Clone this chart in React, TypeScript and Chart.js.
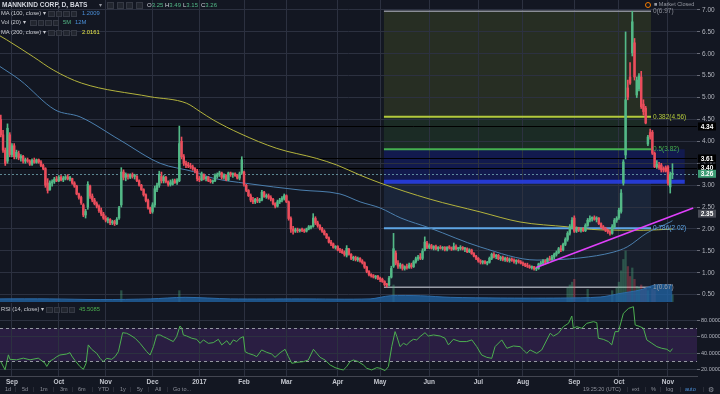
import React, { useEffect, useRef } from 'react';
import { Chart, registerables } from 'chart.js';

Chart.register(...registerables);

// ---------------- data ----------------
const MONTH_IDX = [5, 26, 47, 68, 89, 109, 128, 151, 170, 192, 214, 234, 257, 277, 299];
const MONTH_LABELS = ['Sep', 'Oct', 'Nov', 'Dec', '2017', 'Feb', 'Mar', 'Apr', 'May', 'Jun', 'Jul', 'Aug', 'Sep', 'Oct', 'Nov'];
const PRICE_TICKS = [0.5, 1, 1.5, 2, 2.5, 3, 3.5, 4, 4.5, 5, 5.5, 6, 6.5, 7];
const RSI_TICKS = [20, 40, 60, 80];

const OPENS = [
  4.50, 4.15, 3.80, 3.55, 4.15,
  3.70, 3.90, 3.65, 3.72, 3.62, 3.66, 3.55, 3.58, 3.55, 3.48, 3.57, 3.52, 3.58, 3.53, 3.45, 3.38, 3.05, 2.90, 3.05, 3.08, 3.14,
  3.10, 3.18, 3.12, 3.16, 3.19, 3.14, 3.15, 3.05, 2.98, 2.80, 2.72, 2.55, 2.32, 2.50, 2.98, 2.75, 2.66, 2.58, 2.52, 2.42, 2.34,
  2.25, 2.20, 2.22, 2.14, 2.17, 2.12, 2.25, 2.55, 3.30, 3.18, 3.22, 3.18, 3.24, 3.20, 3.20, 3.10, 3.00, 2.90, 2.78, 2.65, 2.48,
  2.40, 2.55, 2.90, 3.00, 3.20, 3.10, 3.18, 3.08, 3.02, 3.02, 3.10, 3.06, 3.10, 4.00, 3.65, 3.50, 3.46, 3.44, 3.42, 3.38, 3.32,
  3.15, 3.12, 3.24, 3.15, 3.18, 3.10, 3.08, 3.10, 3.20, 3.24, 3.28, 3.18, 3.22, 3.12, 3.28, 3.24, 3.26, 3.22, 3.16, 3.28,
  3.30, 3.00, 2.88, 2.76, 2.66, 2.62, 2.68, 2.64, 2.66, 2.84, 2.74, 2.76, 2.72, 2.68, 2.58, 2.52, 2.62, 2.66, 2.70,
  2.76, 2.62, 2.24, 2.00, 1.95, 1.98, 1.96, 1.98, 1.97, 1.95, 2.00, 2.04, 2.06, 2.24, 2.14, 2.08, 2.01, 1.95, 1.88, 1.80, 1.70, 1.66, 1.58,
  1.60, 1.52, 1.50, 1.46, 1.40, 1.54, 1.42, 1.33, 1.35, 1.30, 1.33, 1.27, 1.23, 1.13, 1.03, 0.96, 0.93, 0.90, 0.92,
  0.87, 0.85, 0.80, 0.73, 0.72, 0.90, 1.15, 1.45, 1.22, 1.15, 1.18, 1.10, 1.14, 1.12, 1.18, 1.14, 1.25, 1.32, 1.36, 1.33, 1.52, 1.68,
  1.58, 1.62, 1.56, 1.60, 1.55, 1.58, 1.56, 1.58, 1.53, 1.58, 1.57, 1.54, 1.60, 1.55, 1.56, 1.58, 1.54, 1.55, 1.48, 1.52, 1.44, 1.38,
  1.33, 1.27, 1.24, 1.26, 1.22, 1.24, 1.33, 1.42, 1.37, 1.40, 1.32, 1.35, 1.30, 1.33, 1.28, 1.31, 1.29, 1.26, 1.28, 1.25,
  1.22, 1.20, 1.17, 1.15, 1.12, 1.14, 1.09, 1.10, 1.20, 1.22, 1.27, 1.24, 1.32, 1.30, 1.36, 1.42, 1.46, 1.55, 1.52, 1.65, 1.76, 1.90, 2.05,
  2.25, 1.95, 2.00, 1.97, 1.99, 1.96, 2.08, 2.20, 2.24, 2.26, 2.22, 2.25, 2.12, 2.05, 2.01, 1.97, 1.94, 1.90, 2.05, 2.20,
  2.26, 2.40, 3.05, 3.69, 5.22, 5.47, 6.02, 6.25, 5.06, 5.20, 5.47, 4.85, 4.76, 3.94, 4.20, 4.21, 3.73, 3.42, 3.45, 3.46, 3.38, 3.40,
  3.42, 2.96, 3.25,
];
const HIGHS = [
  4.60, 4.25, 3.85, 4.40, 4.20,
  3.95, 3.95, 3.80, 3.78, 3.70, 3.68, 3.62, 3.62, 3.58, 3.60, 3.62, 3.60, 3.60, 3.56, 3.48, 3.40, 3.15, 3.10, 3.12, 3.18, 3.20,
  3.22, 3.22, 3.20, 3.22, 3.24, 3.20, 3.16, 3.08, 3.00, 2.82, 2.75, 2.58, 2.45, 3.08, 3.00, 2.80, 2.70, 2.62, 2.55, 2.48, 2.38,
  2.30, 2.26, 2.24, 2.20, 2.20, 2.26, 2.52, 3.40, 3.35, 3.28, 3.26, 3.26, 3.28, 3.25, 3.22, 3.12, 3.02, 2.92, 2.80, 2.68, 2.50,
  2.60, 2.98, 3.05, 3.32, 3.30, 3.22, 3.20, 3.10, 3.12, 3.14, 3.14, 3.15, 4.35, 4.10, 3.70, 3.55, 3.52, 3.50, 3.46, 3.40, 3.36,
  3.20, 3.30, 3.26, 3.20, 3.20, 3.14, 3.12, 3.26, 3.28, 3.32, 3.30, 3.26, 3.24, 3.30, 3.30, 3.28, 3.28, 3.24, 3.30, 3.65,
  3.32, 3.02, 2.90, 2.80, 2.72, 2.70, 2.72, 2.70, 2.88, 2.86, 2.80, 2.80, 2.76, 2.70, 2.60, 2.66, 2.70, 2.74, 2.80,
  2.78, 2.64, 2.28, 2.06, 2.02, 2.02, 2.00, 2.02, 2.00, 2.02, 2.08, 2.08, 2.35, 2.28, 2.18, 2.10, 2.04, 1.98, 1.90, 1.82, 1.74, 1.68, 1.62,
  1.62, 1.56, 1.54, 1.50, 1.62, 1.56, 1.44, 1.38, 1.38, 1.36, 1.35, 1.30, 1.25, 1.15, 1.05, 0.98, 0.96, 0.94, 0.94,
  0.90, 0.88, 0.82, 0.76, 0.92, 1.15, 1.90, 1.50, 1.28, 1.22, 1.20, 1.16, 1.20, 1.22, 1.22, 1.28, 1.36, 1.40, 1.44, 1.55, 1.82, 1.72,
  1.66, 1.65, 1.62, 1.63, 1.60, 1.62, 1.60, 1.60, 1.60, 1.62, 1.59, 1.68, 1.64, 1.58, 1.62, 1.60, 1.58, 1.57, 1.55, 1.54, 1.46, 1.40,
  1.35, 1.30, 1.28, 1.28, 1.26, 1.36, 1.45, 1.46, 1.42, 1.42, 1.38, 1.38, 1.36, 1.36, 1.34, 1.34, 1.32, 1.30, 1.30, 1.28,
  1.25, 1.22, 1.22, 1.18, 1.16, 1.15, 1.12, 1.22, 1.26, 1.30, 1.30, 1.34, 1.38, 1.40, 1.45, 1.50, 1.58, 1.62, 1.68, 1.80, 1.94, 2.10, 2.26,
  2.30, 2.05, 2.04, 2.02, 2.03, 2.12, 2.24, 2.30, 2.28, 2.30, 2.28, 2.26, 2.14, 2.08, 2.04, 2.00, 1.96, 2.10, 2.24, 2.28,
  2.48, 2.90, 3.58, 6.50, 5.40, 5.80, 6.97, 6.35, 5.47, 5.55, 5.60, 4.95, 4.80, 4.14, 4.28, 4.25, 3.76, 3.56, 3.52, 3.50, 3.42, 3.44,
  3.45, 3.30, 3.49,
];
const LOWS = [
  4.10, 3.75, 3.45, 3.50, 3.65,
  3.65, 3.60, 3.60, 3.58, 3.55, 3.50, 3.50, 3.52, 3.45, 3.45, 3.50, 3.50, 3.50, 3.42, 3.35, 2.95, 2.82, 2.88, 2.98, 3.04, 3.08,
  3.08, 3.10, 3.08, 3.12, 3.12, 3.10, 3.02, 2.95, 2.78, 2.68, 2.56, 2.28, 2.25, 2.45, 2.70, 2.62, 2.55, 2.48, 2.38, 2.30, 2.22,
  2.16, 2.14, 2.10, 2.10, 2.08, 2.10, 2.22, 2.50, 3.12, 3.10, 3.14, 3.15, 3.16, 3.14, 3.08, 2.98, 2.88, 2.75, 2.62, 2.45, 2.35,
  2.36, 2.50, 2.85, 2.95, 3.05, 3.05, 3.05, 2.98, 2.98, 3.00, 3.04, 3.02, 3.08, 3.60, 3.45, 3.40, 3.40, 3.38, 3.34, 3.28, 3.10,
  3.08, 3.10, 3.12, 3.10, 3.08, 3.05, 3.04, 3.08, 3.16, 3.20, 3.14, 3.14, 3.10, 3.10, 3.20, 3.18, 3.20, 3.14, 3.12, 3.25,
  2.98, 2.85, 2.74, 2.62, 2.58, 2.58, 2.60, 2.60, 2.64, 2.72, 2.70, 2.68, 2.64, 2.55, 2.48, 2.50, 2.58, 2.62, 2.66,
  2.60, 2.20, 1.92, 1.88, 1.92, 1.92, 1.93, 1.94, 1.92, 1.93, 1.98, 2.00, 2.04, 2.10, 2.04, 1.98, 1.92, 1.86, 1.78, 1.68, 1.62, 1.56, 1.54,
  1.50, 1.46, 1.44, 1.38, 1.36, 1.40, 1.30, 1.28, 1.27, 1.26, 1.24, 1.20, 1.10, 1.00, 0.93, 0.90, 0.88, 0.86, 0.84,
  0.80, 0.78, 0.70, 0.67, 0.70, 0.88, 1.12, 1.18, 1.10, 1.10, 1.06, 1.06, 1.08, 1.10, 1.10, 1.12, 1.22, 1.28, 1.30, 1.30, 1.50, 1.55,
  1.55, 1.54, 1.52, 1.52, 1.50, 1.54, 1.52, 1.50, 1.50, 1.54, 1.51, 1.52, 1.52, 1.50, 1.52, 1.52, 1.48, 1.46, 1.46, 1.42, 1.36, 1.30,
  1.24, 1.20, 1.20, 1.20, 1.18, 1.22, 1.30, 1.34, 1.32, 1.30, 1.28, 1.27, 1.26, 1.25, 1.24, 1.26, 1.22, 1.20, 1.22, 1.20,
  1.16, 1.14, 1.12, 1.10, 1.08, 1.06, 1.05, 1.08, 1.16, 1.18, 1.20, 1.22, 1.28, 1.28, 1.32, 1.38, 1.44, 1.48, 1.50, 1.62, 1.72, 1.86, 2.00,
  1.92, 1.92, 1.94, 1.93, 1.94, 1.94, 2.06, 2.16, 2.18, 2.20, 2.16, 2.10, 2.02, 1.98, 1.94, 1.90, 1.86, 1.88, 2.02, 2.15,
  2.22, 2.36, 3.00, 3.60, 4.95, 5.30, 5.95, 5.40, 5.00, 5.15, 4.75, 4.60, 4.40, 3.90, 4.05, 3.70, 3.40, 3.38, 3.36, 3.30, 3.30, 3.30,
  3.00, 2.82, 3.15,
];
const CLOSES = [
  4.15, 3.80, 3.50, 4.30, 3.70,
  3.90, 3.65, 3.75, 3.62, 3.66, 3.55, 3.58, 3.55, 3.48, 3.57, 3.52, 3.58, 3.53, 3.45, 3.38, 3.00, 2.88, 3.05, 3.08, 3.14, 3.10,
  3.18, 3.12, 3.16, 3.19, 3.14, 3.17, 3.05, 2.98, 2.80, 2.72, 2.60, 2.32, 2.40, 3.02, 2.75, 2.66, 2.58, 2.52, 2.42, 2.34, 2.25,
  2.20, 2.22, 2.14, 2.17, 2.12, 2.22, 2.48, 3.30, 3.18, 3.25, 3.20, 3.24, 3.20, 3.22, 3.10, 3.00, 2.90, 2.78, 2.65, 2.48, 2.38,
  2.55, 2.92, 3.00, 3.25, 3.10, 3.18, 3.08, 3.02, 3.06, 3.10, 3.06, 3.12, 3.95, 3.65, 3.50, 3.46, 3.44, 3.42, 3.38, 3.32, 3.15,
  3.12, 3.26, 3.15, 3.18, 3.10, 3.08, 3.10, 3.22, 3.24, 3.28, 3.18, 3.22, 3.12, 3.28, 3.24, 3.26, 3.22, 3.16, 3.26, 3.58,
  3.02, 2.88, 2.76, 2.66, 2.62, 2.68, 2.64, 2.66, 2.84, 2.74, 2.76, 2.72, 2.68, 2.58, 2.52, 2.62, 2.66, 2.70, 2.76,
  2.62, 2.24, 2.00, 1.95, 1.98, 1.96, 1.98, 1.97, 1.95, 2.00, 2.05, 2.06, 2.25, 2.14, 2.08, 2.01, 1.95, 1.88, 1.80, 1.70, 1.66, 1.58, 1.60,
  1.52, 1.50, 1.46, 1.42, 1.56, 1.42, 1.33, 1.35, 1.30, 1.33, 1.27, 1.23, 1.13, 1.03, 0.96, 0.93, 0.90, 0.92, 0.87,
  0.85, 0.80, 0.73, 0.72, 0.88, 1.10, 1.55, 1.22, 1.15, 1.18, 1.10, 1.14, 1.12, 1.18, 1.14, 1.25, 1.32, 1.36, 1.33, 1.50, 1.70, 1.58,
  1.62, 1.56, 1.60, 1.55, 1.58, 1.56, 1.58, 1.53, 1.58, 1.57, 1.54, 1.60, 1.55, 1.56, 1.58, 1.54, 1.55, 1.48, 1.52, 1.44, 1.38, 1.33,
  1.27, 1.24, 1.26, 1.22, 1.24, 1.33, 1.42, 1.37, 1.40, 1.32, 1.35, 1.30, 1.33, 1.28, 1.31, 1.29, 1.26, 1.28, 1.25, 1.22,
  1.20, 1.17, 1.15, 1.12, 1.14, 1.09, 1.10, 1.20, 1.22, 1.27, 1.24, 1.32, 1.30, 1.36, 1.42, 1.46, 1.55, 1.52, 1.65, 1.76, 1.90, 2.05, 2.20,
  1.95, 2.00, 1.97, 1.99, 1.96, 2.08, 2.20, 2.24, 2.26, 2.22, 2.25, 2.12, 2.05, 2.01, 1.97, 1.94, 1.90, 2.05, 2.20, 2.24,
  2.43, 2.82, 3.53, 4.95, 5.01, 5.33, 6.73, 5.47, 5.40, 5.50, 4.79, 4.68, 4.42, 4.10, 4.10, 3.73, 3.42, 3.48, 3.40, 3.35, 3.35, 3.32,
  3.05, 3.25, 3.26,
];

// moving averages (bar index, value)
const MA100_IDX = [-0.4, 8.6, 24.3, 35.5, 53.4, 71.4, 86.3, 95.2, 110.2, 134.1, 152, 161, 170, 179.3, 192.4, 214.8, 240.3, 259.6, 274.4, 280.7, 289.6, 300, 301];
const MA100_VAL = [5.71, 5.40, 4.72, 4.56, 4.03, 3.50, 3.31, 3.16, 3.04, 2.89, 2.80, 2.62, 2.48, 2.25, 2.02, 1.59, 1.29, 1.34, 1.47, 1.59, 1.91, 2.16, 2.19];
const MA200_IDX = [-0.4, 2.6, 14.6, 23.5, 36.2, 66.9, 83.3, 89.3, 95.2, 107.2, 123.7, 141.6, 150.6, 161, 170, 192.4, 214.8, 232.7, 253.8, 268.6, 287.9, 301];
const MA200_VAL = [6.41, 6.32, 5.93, 5.63, 5.33, 5.02, 4.87, 4.68, 4.49, 4.18, 3.84, 3.61, 3.46, 3.23, 3.05, 2.68, 2.39, 2.16, 2.05, 1.98, 1.97, 2.0];

// volume (millions)
const VOL_IDX = [54, 80, 176, 254, 255, 256, 257, 263, 274, 276, 277, 278, 279, 280, 281, 282, 283, 284, 285, 286, 287, 288, 289, 290, 292, 293, 301];
const VOL_VAL = [8, 8, 12, 10, 12, 14, 16, 9, 8, 10, 14, 22, 30, 36, 25, 18, 24, 16, 11, 10, 12, 9, 10, 8, 9, 8, 5];
const VOLMA_IDX = [-1, 22, 44.5, 67, 82.6, 103, 134, 165.5, 174.5, 188, 201.4, 223.8, 250.7, 268.6, 277.5, 286.5, 293.2, 301];
const VOLMA_VAL = [2.2, 2.2, 1.7, 2.2, 3.3, 2.2, 2.2, 2.2, 4.4, 4.4, 3.3, 2.8, 2.8, 3.5, 6, 8.5, 12, 12];

// trend line drawing
const TREND_IDX = [239.9, 310.3];
const TREND_VAL = [1.12, 2.48];

// fibonacci retracement
const FIB_HIGH = 6.97;
const FIB_LOW = 0.67;
const FIB_LEVELS = [0, 0.382, 0.5, 0.618, 0.786, 1];

// horizontal rays
const HLINE_PRICES = [4.34, 3.61, 3.40];
const HLINE_START = [58, -2, -2];

// axis marks
const AXIS_MARK_PRICES = [4.34, 3.61, 3.40, 3.26, 2.35];

// RSI (14)
const RSI_IDX = [0, 1.9, 3.4, 4.1, 7.1, 10.1, 13.1, 16.8, 19.8, 20.6, 22.1, 23.5, 25.1, 26.5, 29.5, 31, 31.8, 33.3, 35.5, 37, 38.2, 39.2, 40.7, 43, 44.5, 45.9, 47.5, 49.7, 51.2, 52.7, 54.6, 56.4, 57.9, 60.2, 62.4, 65.4, 66.9, 68.4, 69.9, 71.4, 72.8, 74.4, 75.8, 77.3, 78.8, 80.3, 81.1, 81.8, 83.3, 85.6, 87.8, 89.3, 90.8, 93, 95.2, 97.5, 99, 101.3, 102.7, 104.2, 105.7, 107.2, 108.7, 109.5, 110.9, 113.2, 114.7, 116.9, 119.2, 121.4, 122.9, 125.2, 127.4, 128.9, 130.4, 132.6, 135.6, 137.8, 140.1, 141.6, 143.1, 145.3, 147.6, 149.8, 152.1, 153.5, 155, 156.5, 158, 160.2, 162.5, 164, 166.2, 168.5, 170, 172.2, 173.7, 175.2, 176.7, 177.5, 178.9, 180.4, 181.9, 183.4, 184.9, 186.4, 187.9, 190.1, 191.6, 193.9, 196.9, 199.1, 200.6, 202.8, 205.8, 208.8, 211.1, 213.3, 215.5, 217.8, 220, 221.5, 224.5, 226.8, 229.7, 232.7, 234.2, 235.7, 237.2, 240.2, 242.4, 244.7, 246.2, 247.7, 249.9, 252.1, 254.4, 255.9, 256.6, 258.1, 260.4, 262.6, 265.6, 267.1, 267.8, 270, 272.3, 273.8, 275.3, 276.8, 279, 281.3, 283.5, 284.3, 286.5, 288, 289.5, 291.8, 294, 296.2, 298.5, 300, 301];
const RSI_VAL = [29.8, 20, 38, 32.6, 32, 34, 32, 34, 28, 24, 30.6, 32.6, 35.8, 37.8, 39, 40.6, 36.6, 31, 23.8, 20.6, 27.8, 50, 44.7, 39.8, 33.8, 29.8, 33.8, 32.6, 35.8, 41.8, 64.7, 64, 62, 58, 51.9, 41.8, 37.8, 47.9, 62, 62, 60, 58, 56, 54, 60, 72.8, 70, 62, 60.7, 58, 56.7, 51.9, 56, 51.9, 52.7, 56.7, 50, 55, 50, 56, 54, 58, 60, 41.8, 39.8, 37.8, 35.8, 43.9, 41, 39, 35, 40.6, 44.7, 35.8, 27.8, 29, 29.8, 31.8, 44.7, 39.8, 35, 31.8, 25.8, 22.6, 20.6, 19.8, 23.8, 29.8, 31.8, 29.8, 25.8, 21.8, 19.8, 22.6, 21.8, 19, 23.8, 47.9, 66, 60, 47.9, 51.9, 50, 54, 56.7, 56, 60, 64.7, 60.7, 62, 60.7, 58, 50, 56.7, 54, 54, 56, 47.9, 37.8, 35, 33.8, 47.9, 56, 45.9, 48.7, 47.9, 43.9, 39.8, 43.9, 39.8, 43.9, 56, 64, 60.7, 64, 72, 76, 84.8, 70, 72, 70, 76, 78, 76.8, 58, 56.7, 54, 50, 66, 66, 88, 94, 96, 74, 72, 70, 56, 51.9, 47.9, 45.9, 44.7, 41.8, 45.5];

// ---------------- styles ----------------
const BG = '#131722';
const GRID = '#2c3140';
const UP = '#53b987';
const DOWN = '#eb4d5c';
const UP_FAINT = 'rgba(83,185,135,0.35)';
const DOWN_FAINT = 'rgba(235,77,92,0.35)';
const AXIS_TXT = '#b2b5be';
const FONT = '"Liberation Sans", Arial, sans-serif';
const X_MIN = -0.36;
const X_MAX = 312.0;
const Y_MIN = 0.333;
const Y_MAX = 7.228;
const VOL_AXIS_MAX = 213;
const FIB_START = 171.7;
const FIB_ZONE_END = [291.4, 291.4, 306.5, 291.4, 291.4];
const FIB_ZONE_COLORS = ['#272e23', '#1b2b25', '#121a4e', '#1a2539', '#181f2c'];
const FIB_LINE_END = [291.4, 291.4, 291.4, 306.5, 291.4, 291.4];
const FIB_LINE_COLORS = ['#8a8d96', '#b3c93c', '#45b050', 'rgba(40,62,225,0.9)', '#5fa6e6', '#9a9ea8'];
const FIB_LINE_WIDTHS = [1.5, 2, 2, 4, 2, 1.5];
const FIB_LABEL_SHOW = [true, true, true, false, true, true];
const AXIS_MARK_BG = ['#000000', '#000000', '#000000', '#3d9c74', '#4a4d57'];

const fibPrice = (lv: number) => FIB_HIGH - lv * (FIB_HIGH - FIB_LOW);

const pricePlugin = {
  id: 'priceDecor',
  beforeDraw(chart: any) {
    const { ctx, chartArea: a, scales } = chart;
    const x = scales.x, y = scales.y;
    ctx.save();
    ctx.fillStyle = BG;
    ctx.fillRect(0, 0, chart.width, chart.height);
    ctx.beginPath();
    ctx.rect(a.left, a.top, a.right - a.left, a.bottom - a.top);
    ctx.clip();
    const xs = x.getPixelForValue(FIB_START);
    for (let k = 0; k < FIB_LEVELS.length - 1; k++) {
      const xe = x.getPixelForValue(FIB_ZONE_END[k]);
      const y1 = y.getPixelForValue(fibPrice(FIB_LEVELS[k]));
      const y2 = y.getPixelForValue(fibPrice(FIB_LEVELS[k + 1]));
      ctx.fillStyle = FIB_ZONE_COLORS[k];
      ctx.fillRect(xs, y1, xe - xs, y2 - y1);
    }
    ctx.restore();
  },
  beforeDatasetsDraw(chart: any) {
    const { ctx, chartArea: a, scales } = chart;
    const x = scales.x, y = scales.y;
    ctx.save();
    ctx.beginPath();
    ctx.rect(a.left, a.top, a.right - a.left, a.bottom - a.top);
    ctx.clip();
    const xs = x.getPixelForValue(FIB_START);
    FIB_LEVELS.forEach((lv, k) => {
      const py = y.getPixelForValue(fibPrice(lv));
      ctx.strokeStyle = FIB_LINE_COLORS[k];
      ctx.lineWidth = FIB_LINE_WIDTHS[k];
      ctx.beginPath();
      ctx.moveTo(xs, py);
      ctx.lineTo(x.getPixelForValue(FIB_LINE_END[k]), py);
      ctx.stroke();
    });
    HLINE_PRICES.forEach((p, k) => {
      const py = Math.round(y.getPixelForValue(p)) + 0.5;
      ctx.strokeStyle = '#000000';
      ctx.lineWidth = 1;
      ctx.beginPath();
      ctx.moveTo(x.getPixelForValue(HLINE_START[k]), py);
      ctx.lineTo(a.right, py);
      ctx.stroke();
    });
    const last = CLOSES[CLOSES.length - 1];
    const ly = Math.round(y.getPixelForValue(last)) + 0.5;
    ctx.strokeStyle = 'rgba(120,175,185,0.75)';
    ctx.setLineDash([2, 2]);
    ctx.beginPath();
    ctx.moveTo(a.left, ly);
    ctx.lineTo(a.right, ly);
    ctx.stroke();
    ctx.restore();
  },
  afterDatasetsDraw(chart: any) {
    const { ctx, scales } = chart;
    const x = scales.x, y = scales.y;
    ctx.save();
    ctx.font = `6.5px ${FONT}`;
    ctx.textBaseline = 'middle';
    FIB_LEVELS.forEach((lv, k) => {
      if (!FIB_LABEL_SHOW[k]) return;
      const p = fibPrice(lv);
      ctx.fillStyle = FIB_LINE_COLORS[k];
      ctx.fillText(`${lv}(${p.toFixed(2)})`, x.getPixelForValue(FIB_LINE_END[k]) + 2, y.getPixelForValue(p));
    });
    ctx.restore();
  },
  afterDraw(chart: any) {
    const { ctx, chartArea: a, scales } = chart;
    const y = scales.y;
    ctx.save();
    ctx.font = `bold 6.5px ${FONT}`;
    ctx.textBaseline = 'middle';
    ctx.textAlign = 'center';
    AXIS_MARK_PRICES.forEach((p, k) => {
      const py = y.getPixelForValue(p);
      ctx.fillStyle = AXIS_MARK_BG[k];
      ctx.fillRect(a.right + 1, py - 4, 18, 8);
      ctx.fillStyle = '#ffffff';
      ctx.fillText(p.toFixed(2), a.right + 10, py + 0.5);
    });
    ctx.restore();
  },
};

const rsiPlugin = {
  id: 'rsiDecor',
  beforeDraw(chart: any) {
    const { ctx, chartArea: a, scales } = chart;
    const y = scales.y;
    ctx.save();
    ctx.fillStyle = BG;
    ctx.fillRect(0, 0, chart.width, chart.height);
    const y70 = y.getPixelForValue(70), y30 = y.getPixelForValue(30);
    ctx.fillStyle = '#2a1e42';
    ctx.fillRect(a.left, y70, a.right - a.left, y30 - y70);
    ctx.restore();
  },
  beforeDatasetsDraw(chart: any) {
    const { ctx, chartArea: a, scales } = chart;
    const y = scales.y;
    ctx.save();
    ctx.strokeStyle = '#9598a1';
    ctx.lineWidth = 1;
    ctx.setLineDash([3, 3]);
    [70, 30].forEach((v) => {
      const py = Math.round(y.getPixelForValue(v)) + 0.5;
      ctx.beginPath();
      ctx.moveTo(a.left, py);
      ctx.lineTo(a.right, py);
      ctx.stroke();
    });
    ctx.restore();
  },
};

const xScale = (labels: boolean) => ({
  type: 'linear',
  offset: false,
  min: X_MIN,
  max: X_MAX,
  grid: { color: GRID, drawTicks: false, lineWidth: 1, offset: false },
  border: { display: labels, color: '#434651' },
  ticks: {
    display: labels,
    color: '#c3c6ce',
    font: { size: 6.5, weight: 'bold', family: FONT },
    padding: 2,
    autoSkip: false,
    maxRotation: 0,
    callback: (v: number) => {
      const k = MONTH_IDX.indexOf(v);
      return k >= 0 ? MONTH_LABELS[k] : '';
    },
  },
  afterBuildTicks: (s: any) => {
    s.ticks = MONTH_IDX.map((v) => ({ value: v }));
  },
  afterFit: (s: any) => {
    s.height = labels ? 18 : 0;
    s.paddingLeft = 0;
    s.paddingRight = 0;
  },
});

const T = ({ x, y, c, s = 6, w = 400, children }: any) => (
  <div style={{ position: 'absolute', left: x, top: y, color: c, fontSize: s, fontWeight: w, fontFamily: FONT, lineHeight: 1, whiteSpace: 'nowrap' }}>{children}</div>
);
const Boxes = ({ x, y, step, size }: any) => (
  <>
    {[0, 1, 2, 3].map((k) => (
      <div key={k} style={{ position: 'absolute', left: x + k * step, top: y, width: size, height: size, background: '#22262f', border: '1px solid #353944', boxSizing: 'border-box' }} />
    ))}
  </>
);

export default function App() {
  const pRef = useRef<HTMLCanvasElement>(null);
  const rRef = useRef<HTMLCanvasElement>(null);

  useEffect(() => {
    const idx = CLOSES.map((_, i) => i);
    const isUp = (i: number) => CLOSES[i] >= OPENS[i];
    const candleColors = idx.map((i) => (isUp(i) ? UP : DOWN));

    const price = new Chart(pRef.current as HTMLCanvasElement, {
      type: 'bar',
      data: {
        datasets: [
          {
            type: 'bar', label: 'Volume', yAxisID: 'yv',
            data: VOL_IDX.map((x, k) => ({ x, y: VOL_VAL[k] })),
            backgroundColor: VOL_IDX.map((i) => (isUp(i) ? UP_FAINT : DOWN_FAINT)),
            barThickness: 1.6, grouped: false, order: 20,
          } as any,
          {
            type: 'line', label: 'Vol MA', yAxisID: 'yv',
            data: VOLMA_IDX.map((x, k) => ({ x, y: VOLMA_VAL[k] })),
            fill: 'origin', backgroundColor: 'rgba(33,97,160,0.8)', borderColor: '#2c6aa6', borderWidth: 1,
            pointRadius: 0, tension: 0.3, order: 19,
          },
          {
            type: 'line', label: 'MA 100', yAxisID: 'y',
            data: MA100_IDX.map((x, k) => ({ x, y: MA100_VAL[k] })),
            borderColor: '#4b7fae', borderWidth: 1, pointRadius: 0, cubicInterpolationMode: 'monotone', order: 10,
          },
          {
            type: 'line', label: 'MA 200', yAxisID: 'y',
            data: MA200_IDX.map((x, k) => ({ x, y: MA200_VAL[k] })),
            borderColor: '#b3b33c', borderWidth: 1, pointRadius: 0, cubicInterpolationMode: 'monotone', order: 10,
          },
          {
            type: 'bar', label: 'wick', yAxisID: 'y',
            data: idx.map((i) => ({ x: i, y: [LOWS[i], HIGHS[i]] })),
            backgroundColor: candleColors, barThickness: 1, grouped: false, order: 5,
          } as any,
          {
            type: 'bar', label: 'body', yAxisID: 'y',
            data: idx.map((i) => ({ x: i, y: [OPENS[i], CLOSES[i]] })),
            backgroundColor: candleColors, barThickness: 1.8, minBarLength: 1, grouped: false, order: 4,
          } as any,
          {
            type: 'line', label: 'trend', yAxisID: 'y',
            data: TREND_IDX.map((x, k) => ({ x, y: TREND_VAL[k] })),
            borderColor: '#e040fb', borderWidth: 1.6, pointRadius: 0, order: 1,
          },
        ],
      },
      options: {
        animation: false,
        responsive: false,
        devicePixelRatio: 1,
        events: [],
        layout: { padding: 0 },
        plugins: { legend: { display: false }, tooltip: { enabled: false } },
        scales: {
          x: xScale(false) as any,
          y: {
            type: 'linear', position: 'right', min: Y_MIN, max: Y_MAX,
            grid: { color: GRID, drawTicks: true, tickLength: 3, tickColor: '#6a6d78' },
            border: { display: false },
            ticks: { color: AXIS_TXT, font: { size: 6.5, family: FONT }, padding: 2, callback: (v: any) => Number(v).toFixed(2) },
            afterBuildTicks: (s: any) => { s.ticks = PRICE_TICKS.map((v) => ({ value: v })); },
            afterFit: (s: any) => { s.width = 23; s.paddingTop = 0; s.paddingBottom = 0; },
          } as any,
          yv: { type: 'linear', display: false, min: 0, max: VOL_AXIS_MAX },
        },
      },
      plugins: [pricePlugin],
    });

    const rsi = new Chart(rRef.current as HTMLCanvasElement, {
      type: 'line',
      data: {
        datasets: [
          {
            label: 'RSI', data: RSI_IDX.map((x, k) => ({ x, y: RSI_VAL[k] })),
            borderColor: '#4caf50', borderWidth: 1, pointRadius: 0, tension: 0,
          },
        ],
      },
      options: {
        animation: false,
        responsive: false,
        devicePixelRatio: 1,
        events: [],
        layout: { padding: { top: 1 } },
        plugins: { legend: { display: false }, tooltip: { enabled: false } },
        scales: {
          x: xScale(true) as any,
          y: {
            type: 'linear', position: 'right', min: 12.5, max: 100.5,
            grid: { color: GRID, drawTicks: true, tickLength: 3, tickColor: '#6a6d78' },
            border: { display: false },
            ticks: { color: AXIS_TXT, font: { size: 5.5, family: FONT }, padding: 1, callback: (v: any) => Number(v).toFixed(4) },
            afterBuildTicks: (s: any) => { s.ticks = RSI_TICKS.map((v) => ({ value: v })); },
            afterFit: (s: any) => { s.width = 23; s.paddingTop = 0; s.paddingBottom = 0; },
          } as any,
        },
      },
      plugins: [rsiPlugin],
    });

    return () => {
      price.destroy();
      rsi.destroy();
    };
  }, []);

  const sep = '#434651';
  const tb = '#8d909a';
  return (
    <div style={{ position: 'absolute', left: 0, top: 0, width: 720, height: 394, background: BG, overflow: 'hidden' }}>
      <canvas ref={pRef} width={720} height={302} style={{ position: 'absolute', left: 0, top: 0 }} />
      <canvas ref={rRef} width={720} height={92} style={{ position: 'absolute', left: 0, top: 302 }} />

      {/* legend */}
      <T x={2} y={1.5} c="#d1d4dc" s={6.6} w={700}>MANNKIND CORP, D, BATS</T>
      <T x={99} y={1.5} c="#9598a1" s={6}>▾</T>
      <Boxes x={107} y={1.5} step={9.5} size={7} />
      <T x={147} y={2} c="#d1d4dc" s={6}>O<span style={{ color: UP }}>3.25</span></T>
      <T x={165} y={2} c="#d1d4dc" s={6}>H<span style={{ color: UP }}>3.49</span></T>
      <T x={183} y={2} c="#d1d4dc" s={6}>L<span style={{ color: UP }}>3.15</span></T>
      <T x={201} y={2} c="#d1d4dc" s={6}>C<span style={{ color: UP }}>3.26</span></T>

      <T x={1} y={11} c="#c8cad0" s={5.8}>MA (100, close) ▾</T>
      <Boxes x={48} y={10.5} step={7.6} size={6.5} />
      <T x={82} y={11} c="#4a8fd8" s={5.8}>1.2009</T>

      <T x={1} y={20} c="#c8cad0" s={5.8}>Vol (20) ▾</T>
      <Boxes x={30} y={19.5} step={7.6} size={6.5} />
      <T x={63} y={20} c={UP} s={5.8}>5M</T>
      <T x={75} y={20} c="#4a8fd8" s={5.8}>12M</T>

      <T x={1} y={30} c="#c8cad0" s={5.8}>MA (200, close) ▾</T>
      <Boxes x={48} y={29.5} step={7.6} size={6.5} />
      <T x={82} y={30} c="#e6e64a" s={5.8}>2.0161</T>

      {/* market closed */}
      <div style={{ position: 'absolute', left: 645, top: 1.5, width: 6, height: 6, borderRadius: '50%', border: '1px solid #f57c00', boxSizing: 'border-box' }} />
      <T x={654} y={2} c="#9598a1" s={5.5}>■ Market Closed</T>

      {/* RSI legend */}
      <T x={1} y={307} c="#c8cad0" s={5.8}>RSI (14, close) ▾</T>
      <Boxes x={46} y={306.5} step={7.6} size={6.5} />
      <T x={79} y={307} c="#4caf50" s={5.8}>45.5085</T>

      {/* bottom toolbar */}
      <T x={5} y={386.5} c={tb} s={5.5}>1d</T>
      <T x={15} y={386.5} c={sep} s={5.5}>|</T>
      <T x={22} y={386.5} c={tb} s={5.5}>5d</T>
      <T x={33} y={386.5} c={sep} s={5.5}>|</T>
      <T x={40} y={386.5} c={tb} s={5.5}>1m</T>
      <T x={53} y={386.5} c={sep} s={5.5}>|</T>
      <T x={60} y={386.5} c={tb} s={5.5}>3m</T>
      <T x={72} y={386.5} c={sep} s={5.5}>|</T>
      <T x={78} y={386.5} c={tb} s={5.5}>6m</T>
      <T x={92} y={386.5} c={sep} s={5.5}>|</T>
      <T x={98} y={386.5} c={tb} s={5.5}>YTD</T>
      <T x={113} y={386.5} c={sep} s={5.5}>|</T>
      <T x={120} y={386.5} c={tb} s={5.5}>1y</T>
      <T x={130} y={386.5} c={sep} s={5.5}>|</T>
      <T x={137} y={386.5} c={tb} s={5.5}>5y</T>
      <T x={148} y={386.5} c={sep} s={5.5}>|</T>
      <T x={155} y={386.5} c={tb} s={5.5}>All</T>
      <T x={167} y={386.5} c={sep} s={5.5}>|</T>
      <T x={173} y={386.5} c={tb} s={5.5}>Go to...</T>

      <T x={583} y={386.5} c={tb} s={5.5}>19:25:20 (UTC)</T>
      <T x={627} y={386.5} c={sep} s={5.5}>|</T>
      <T x={632} y={386.5} c={tb} s={5.5}>ext</T>
      <T x={645} y={386.5} c={sep} s={5.5}>|</T>
      <T x={651} y={386.5} c={tb} s={5.5}>%</T>
      <T x={660} y={386.5} c={sep} s={5.5}>|</T>
      <T x={666} y={386.5} c={tb} s={5.5}>log</T>
      <T x={680} y={386.5} c={sep} s={5.5}>|</T>
      <T x={685} y={386.5} c="#4a8fd8" s={5.5}>auto</T>
      <T x={703} y={386.5} c={sep} s={5.5}>|</T>
      <T x={708} y={385.5} c={tb} s={7}>⚙</T>
    </div>
  );
}
